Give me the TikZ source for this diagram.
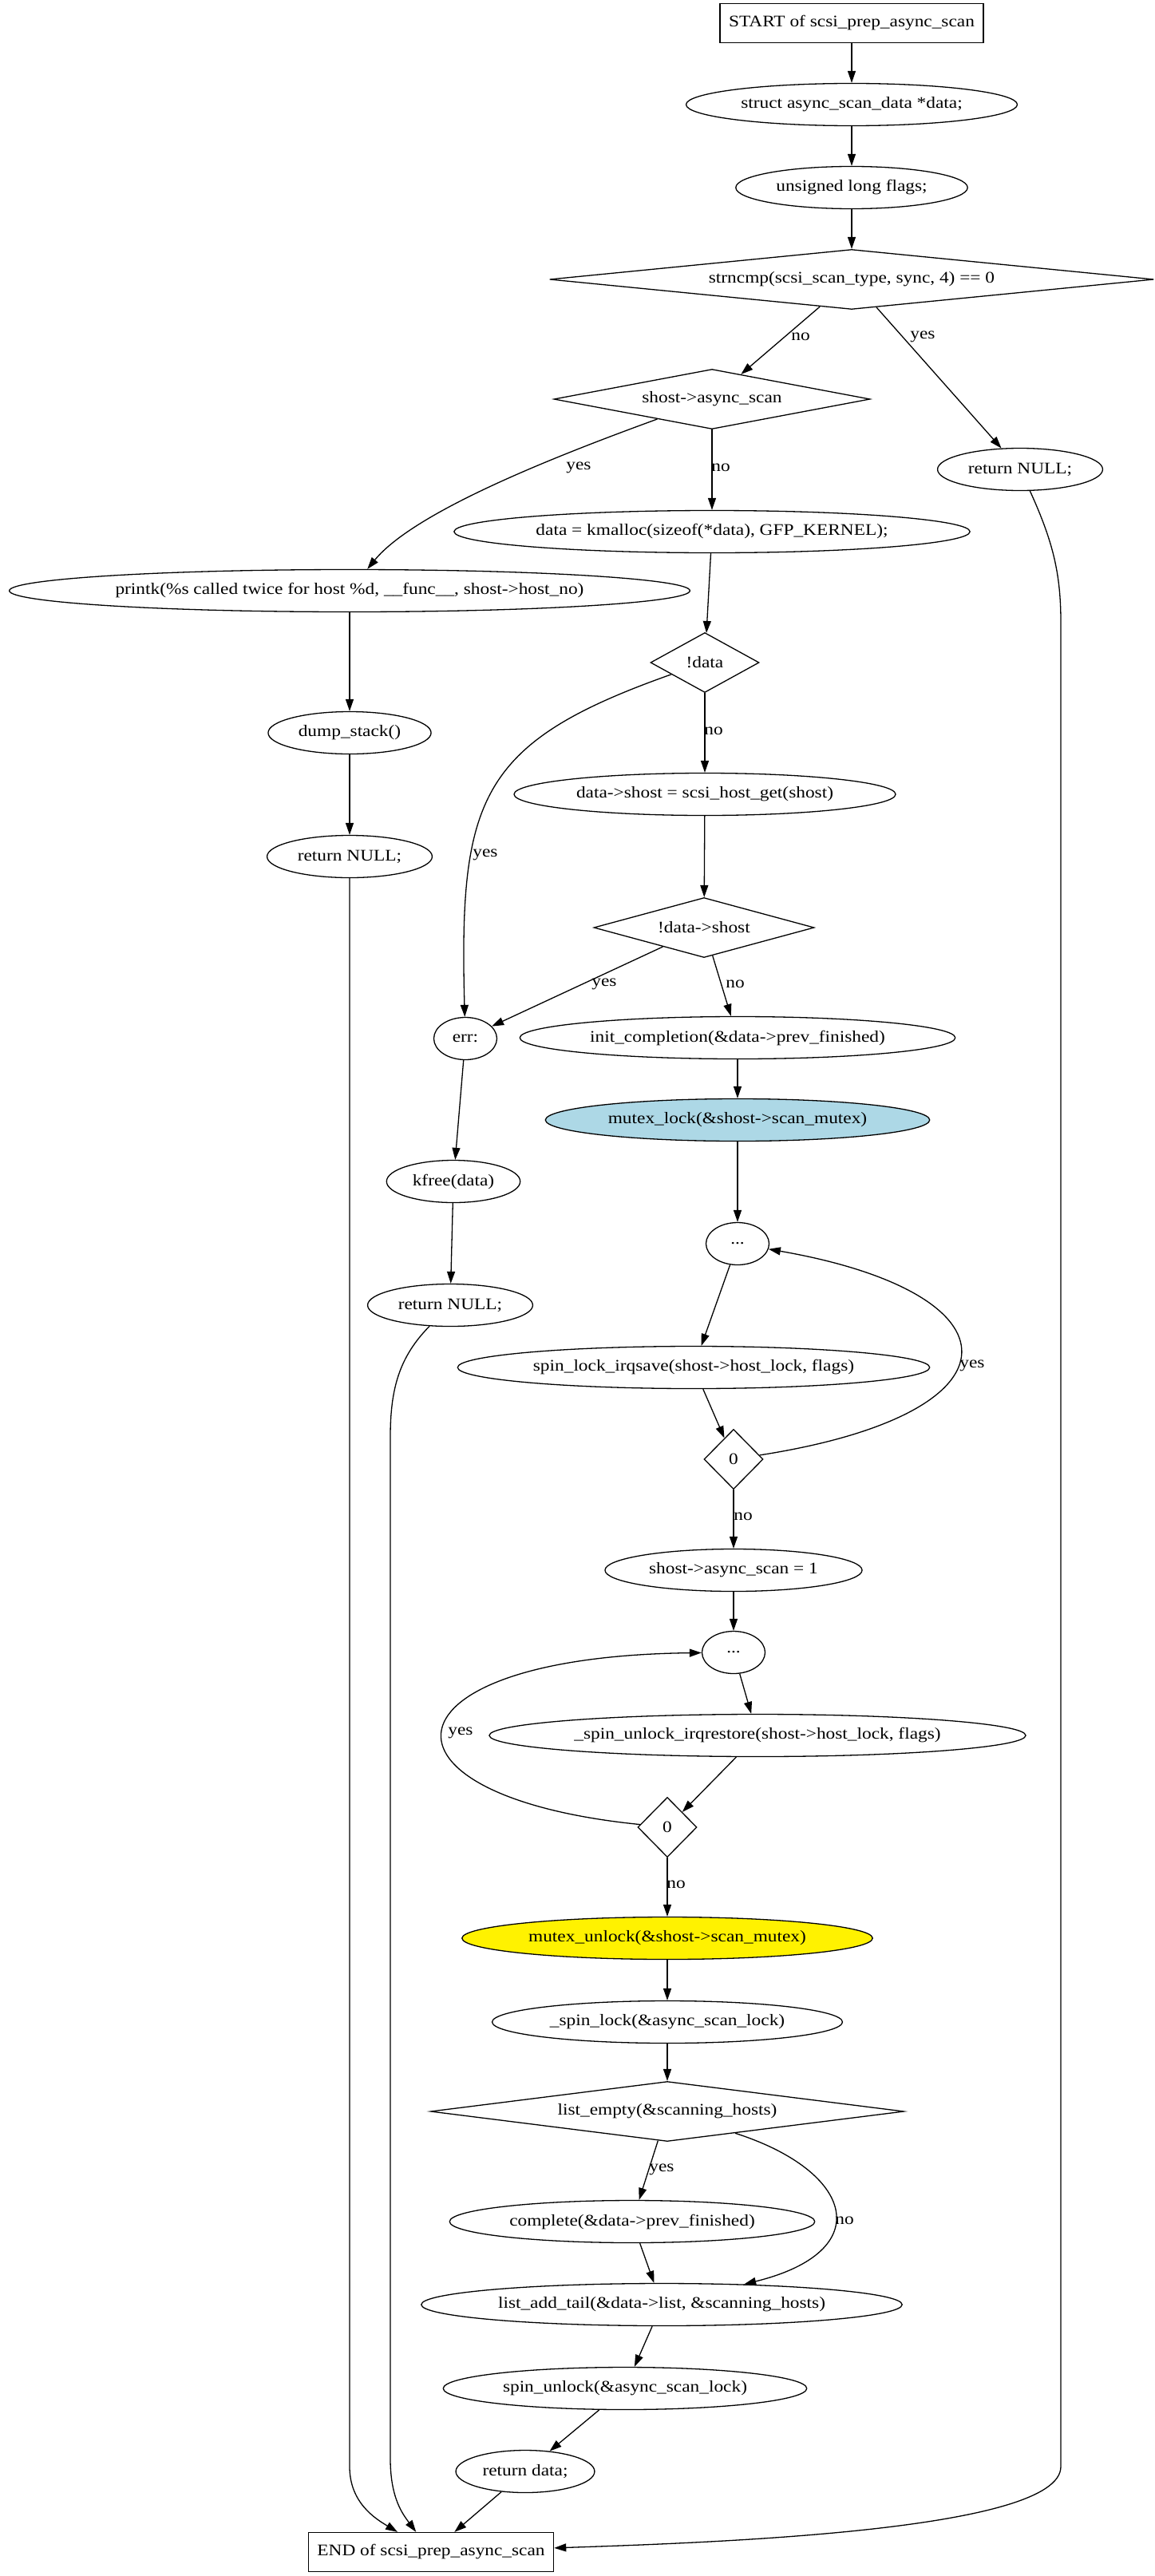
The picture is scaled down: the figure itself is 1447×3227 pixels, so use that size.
\documentclass[tikz,border=0pt]{standalone}
\usepackage{fontspec}
\setmainfont{Liberation Serif}[FakeStretch=1.15]
\usetikzlibrary{shapes.geometric,arrows.meta}
\definecolor{lightblue}{HTML}{ADD8E6}
\begin{document}
\begin{tikzpicture}[x=1pt,y=-1pt,line width=1.3pt,>={Triangle[length=15pt,width=10pt]},
  font=\fontsize{20.3}{24}\selectfont,
  stmt/.style={ellipse,draw,inner xsep=8pt,inner ysep=0pt,minimum width=79pt,minimum height=53pt},
  decision/.style={diamond,draw,inner sep=0pt,minimum height=75pt,aspect=#1},
  decision/.default=1,
  term/.style={rectangle,draw,inner xsep=11pt,minimum height=49pt}]
\useasboundingbox (0,0) rectangle (1447,3227);
\node[term] (start) at (1067,29) {START of scsi\_prep\_async\_scan};
\node[stmt] (decl) at (1067,131) {struct async\_scan\_data *data;};
\node[stmt] (flags) at (1067,235) {unsigned long flags;};
\node[decision=10,minimum width=757pt] (ifsync) at (1067,350) {strncmp(scsi\_scan\_type, sync, 4) == 0};
\node[decision=10,minimum width=396pt] (ifbusy) at (892,500) {shost->async\_scan};
\node[stmt] (retsync) at (1278,588) {return NULL;};
\node[stmt] (alloc) at (892,666) {data = kmalloc(sizeof(*data), GFP\_KERNEL);};
\node[stmt] (warn) at (438,740) {printk(\%s called twice for host \%d, \_\_func\_\_, shost->host\_no)};
\node[decision=2,minimum width=136pt] (ifnodata) at (883,830) {!data};
\node[stmt] (dumpst) at (438,918) {dump\_stack()};
\node[stmt] (gethost) at (883,995) {data->shost = scsi\_host\_get(shost)};
\node[stmt] (retbusy) at (438,1073) {return NULL;};
\node[decision=4,minimum width=276pt] (ifnohost) at (882,1162) {!data->shost};
\node[stmt] (errlbl) at (583,1301) {err:};
\node[stmt] (initdone) at (924,1300) {init\_completion(\&data->prev\_finished)};
\node[stmt,fill=lightblue] (lockmtx) at (924,1403) {mutex\_lock(\&shost->scan\_mutex)};
\node[stmt] (kfreed) at (568,1480) {kfree(data)};
\node[stmt] (loop1) at (924,1558) {...};
\node[stmt] (retnomem) at (564,1635) {return NULL;};
\node[stmt] (lockirq) at (869,1713) {spin\_lock\_irqsave(shost->host\_lock, flags)};
\node[decision,minimum width=74pt] (cond1) at (919,1828) {0};
\node[stmt] (setasync) at (919,1967) {shost->async\_scan = 1};
\node[stmt] (loop2) at (919,2070) {...};
\node[stmt] (unlockirq) at (949,2174) {\_spin\_unlock\_irqrestore(shost->host\_lock, flags)};
\node[decision,minimum width=74pt] (cond2) at (836,2289) {0};
\node[stmt,fill=yellow] (unlockmtx) at (836,2428) {mutex\_unlock(\&shost->scan\_mutex)};
\node[stmt] (lockscan) at (836,2533) {\_spin\_lock(\&async\_scan\_lock)};
\node[decision=10,minimum width=593pt] (ifempty) at (836,2645) {list\_empty(\&scanning\_hosts)};
\node[stmt] (completed) at (792,2783) {complete(\&data->prev\_finished)};
\node[stmt] (addtail) at (829,2887) {list\_add\_tail(\&data->list, \&scanning\_hosts)};
\node[stmt] (unlockscan) at (783,2992) {spin\_unlock(\&async\_scan\_lock)};
\node[stmt] (retdata) at (658,3096) {return data;};
\node[term] (finish) at (540,3197) {END of scsi\_prep\_async\_scan};

\node (l1) at (1003,422) {no};
\node (l2) at (1156,422) {yes};
\node (l3) at (725,586) {yes};
\node (l4) at (903,586) {no};
\node (l5) at (894,916) {no};
\node (l6) at (608,1071) {yes};
\node (l7) at (757,1233) {yes};
\node (l8) at (921,1233) {no};
\node (l9) at (1218,1711) {yes};
\node (l10) at (931,1900) {no};
\node (l11) at (577,2171) {yes};
\node (l12) at (847,2361) {no};
\node (l13) at (829,2718) {yes};
\node (l14) at (1058,2782) {no};

\draw[->] (start) -- (decl);
\draw[->] (decl) -- (flags);
\draw[->] (flags) -- (ifsync);
\draw[->] (ifsync) -- (ifbusy);
\draw[->] (ifsync) -- (retsync);
\draw[->] (ifbusy) .. controls (700,570) and (520,640) .. (warn);
\draw[->] (ifbusy) -- (alloc);
\draw[->] (retsync) .. controls (1320,680) and (1329,720) .. (1329,780) -- (1329,3090) .. controls (1329,3170) and (900,3185) .. (finish);
\draw[->] (alloc) -- (ifnodata);
\draw[->] (warn) -- (dumpst);
\draw[->] (dumpst) -- (retbusy);
\draw[->] (retbusy) -- (438,3090) .. controls (438,3135) and (470,3155) .. (finish);
\draw[->] (ifnodata) -- (gethost);
\draw[->] (ifnodata) .. controls (600,930) and (575,1000) .. (errlbl);
\draw[->] (gethost) -- (ifnohost);
\draw[->] (ifnohost) -- (errlbl);
\draw[->] (ifnohost) -- (initdone);
\draw[->] (initdone) -- (lockmtx);
\draw[->] (errlbl) -- (kfreed);
\draw[->] (kfreed) -- (retnomem);
\draw[->] (retnomem) .. controls (500,1700) and (489,1740) .. (489,1800) -- (489,3080) .. controls (489,3130) and (505,3150) .. (finish);
\draw[->] (lockmtx) -- (loop1);
\draw[->] (loop1) -- (lockirq);
\draw[->] (lockirq) -- (cond1);
\draw[->] (cond1) .. controls (1290,1770) and (1280,1620) .. (loop1);
\draw[->] (cond1) -- (setasync);
\draw[->] (setasync) -- (loop2);
\draw[->] (loop2) -- (unlockirq);
\draw[->] (unlockirq) -- (cond2);
\draw[->] (cond2) .. controls (450,2250) and (470,2075) .. (loop2);
\draw[->] (cond2) -- (unlockmtx);
\draw[->] (unlockmtx) -- (lockscan);
\draw[->] (lockscan) -- (ifempty);
\draw[->] (ifempty) -- (completed);
\draw[->] (ifempty) .. controls (1070,2720) and (1100,2820) .. (addtail);
\draw[->] (completed) -- (addtail);
\draw[->] (addtail) -- (unlockscan);
\draw[->] (unlockscan) -- (retdata);
\draw[->] (retdata) -- (finish);
\end{tikzpicture}
\end{document}
